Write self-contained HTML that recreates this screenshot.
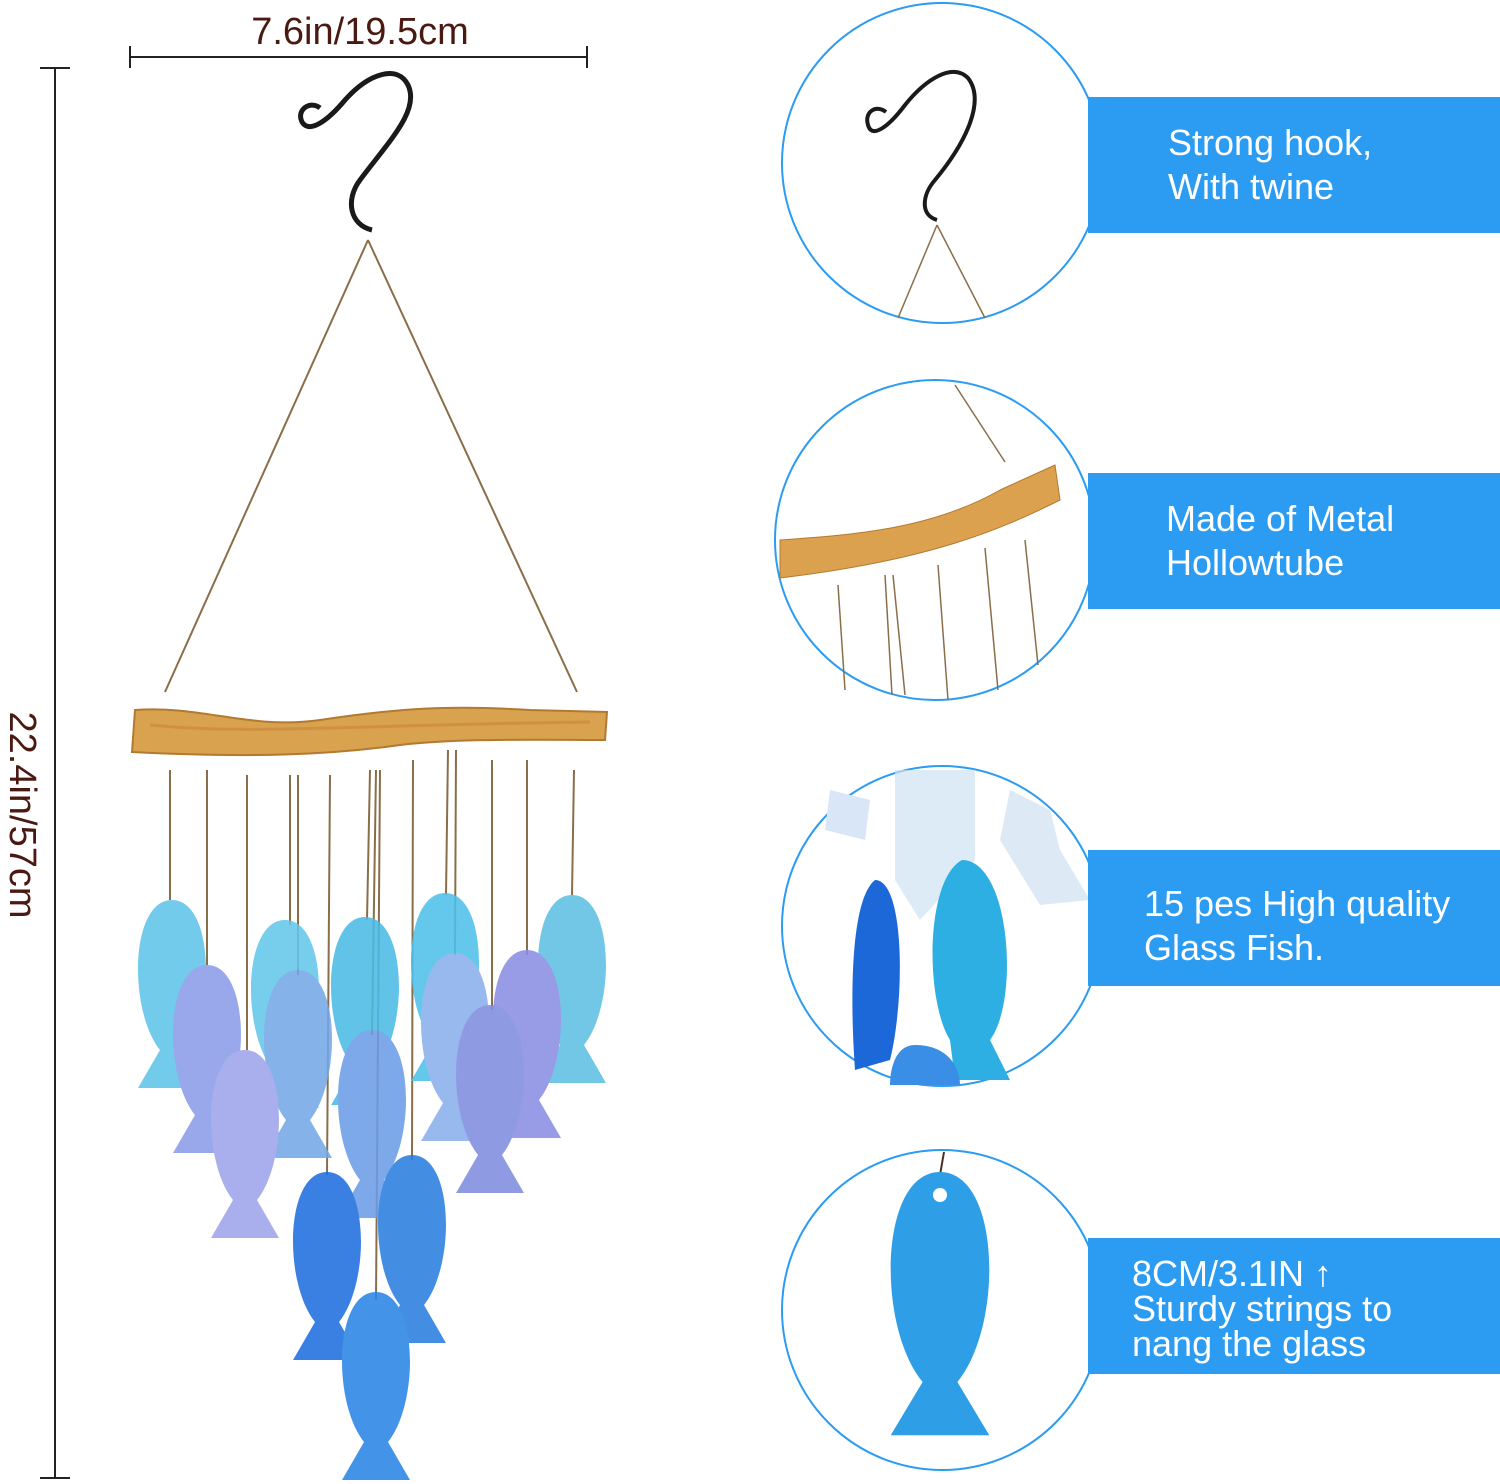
<!DOCTYPE html>
<html><head><meta charset="utf-8"><style>
html,body{margin:0;padding:0;background:#fff;}
body{width:1500px;height:1484px;position:relative;overflow:hidden;font-family:"Liberation Sans","DejaVu Sans",sans-serif;}
.band{position:absolute;left:1088px;width:412px;height:136px;background:#2b9cf2;color:#fff;font-size:36px;line-height:44px;box-sizing:border-box;}
</style></head><body>
<svg width="1500" height="1484" style="position:absolute;left:0;top:0">
<defs>
<path id="fish" d="M0,0 C42,0 44,110 12,150 L34,188 L-34,188 L-12,150 C-44,110 -42,0 0,0 Z"/>
</defs>
<!-- dimension lines -->
<g stroke="#222" stroke-width="2" fill="none">
<line x1="130" y1="57" x2="587" y2="57"/><line x1="130" y1="46" x2="130" y2="68"/><line x1="587" y1="46" x2="587" y2="68"/>
<line x1="55" y1="68" x2="55" y2="1478"/><line x1="40" y1="68" x2="70" y2="68"/><line x1="40" y1="1478" x2="70" y2="1478"/>
</g>
<text x="360" y="44" font-size="38" fill="#4a1a12" text-anchor="middle" font-family="Liberation Sans, sans-serif">7.6in/19.5cm</text>
<text transform="translate(10,815) rotate(90)" font-size="38" fill="#4a1a12" text-anchor="middle" font-family="Liberation Sans, sans-serif">22.4in/57cm</text>
<!-- hook -->
<path d="M372,230 C350,225 345,200 360,180 C390,140 420,110 408,85 C398,65 370,72 345,100 C330,118 310,135 302,122 C296,110 310,100 320,108" stroke="#1a1a1a" stroke-width="5" fill="none"/>
<!-- strings -->
<g stroke="#8a6e4a" stroke-width="2" fill="none">
<line x1="368" y1="240" x2="165" y2="692"/><line x1="368" y1="240" x2="577" y2="692"/>
<line x1="170" y1="770" x2="170" y2="900"/><line x1="207" y1="770" x2="207" y2="965"/><line x1="247" y1="775" x2="247" y2="1050"/>
<line x1="290" y1="775" x2="290" y2="925"/><line x1="298" y1="775" x2="298" y2="975"/><line x1="330" y1="775" x2="327" y2="1175"/>
<line x1="370" y1="770" x2="367" y2="920"/><line x1="376" y1="770" x2="372" y2="1035"/><line x1="380" y1="770" x2="376" y2="1300"/>
<line x1="413" y1="760" x2="412" y2="1160"/><line x1="448" y1="750" x2="446" y2="895"/><line x1="456" y1="750" x2="455" y2="955"/>
<line x1="492" y1="760" x2="492" y2="1010"/><line x1="527" y1="760" x2="527" y2="955"/><line x1="574" y1="770" x2="572" y2="895"/>
</g>
<!-- stick -->
<path d="M135,710 C200,705 250,730 320,720 C400,708 450,705 530,710 L607,712 L605,740 C540,740 460,738 400,745 C330,755 250,758 132,752 Z" fill="#d9a24e" stroke="#b27a30" stroke-width="2"/>
<path d="M150,725 C250,735 350,725 590,722" stroke="#c9843a" stroke-width="3" fill="none" opacity=".6"/>
<!-- fish -->
<g opacity="0.88">
<use href="#fish" transform="translate(172,900) scale(1,1)" fill="#5fc4e8"/>
<use href="#fish" transform="translate(572,895)" fill="#5fc0e4"/>
<use href="#fish" transform="translate(445,893)" fill="#4fc0ea"/>
<use href="#fish" transform="translate(285,920)" fill="#63c6ea"/>
<use href="#fish" transform="translate(365,917)" fill="#4cbbe5"/>
<use href="#fish" transform="translate(207,965)" fill="#8a9de8"/>
<use href="#fish" transform="translate(298,970)" fill="#74a8e6"/>
<use href="#fish" transform="translate(455,953)" fill="#8ab0ec"/>
<use href="#fish" transform="translate(527,950)" fill="#8a8fe4"/>
<use href="#fish" transform="translate(245,1050)" fill="#9da4ea"/>
<use href="#fish" transform="translate(372,1030)" fill="#6b9de6"/>
<use href="#fish" transform="translate(490,1005)" fill="#7f8ee0"/>
<use href="#fish" transform="translate(327,1172)" fill="#1f6fe0"/>
<use href="#fish" transform="translate(412,1155)" fill="#2a7fe0"/>
<use href="#fish" transform="translate(376,1292)" fill="#2a86e6"/>
</g>
<!-- circles -->
<g fill="none" stroke="#2b9cf2" stroke-width="2">
<circle cx="942" cy="163" r="160"/><circle cx="935" cy="540" r="160"/>
<circle cx="942" cy="926" r="160"/><circle cx="942" cy="1310" r="160"/>
</g>
<!-- circle 1 content -->
<path d="M937,220 C920,215 922,195 935,180 C968,140 985,100 968,78 C952,62 925,80 905,105 C890,125 872,140 868,125 C864,112 876,104 886,112" stroke="#1a1a1a" stroke-width="4" fill="none"/>
<g stroke="#8a6e4a" stroke-width="1.5"><line x1="937" y1="225" x2="898" y2="318"/><line x1="937" y1="225" x2="985" y2="318"/></g>
<!-- circle 2 content -->
<line x1="955" y1="385" x2="1005" y2="462" stroke="#8a6e4a" stroke-width="1.5"/>
<path d="M780,540 C850,535 930,530 1000,490 L1055,465 L1060,500 C1000,530 930,560 780,578 Z" fill="#dca14e" stroke="#b27a30"/>
<g stroke="#8a6e4a" stroke-width="1.5">
<line x1="838" y1="585" x2="845" y2="690"/><line x1="885" y1="575" x2="892" y2="695"/><line x1="893" y1="575" x2="905" y2="695"/>
<line x1="938" y1="565" x2="948" y2="700"/><line x1="985" y1="548" x2="998" y2="690"/><line x1="1025" y1="540" x2="1038" y2="665"/>
</g>
<!-- circle 3 content -->
<path d="M895,770 L975,770 L975,860 L920,920 L895,880 Z" fill="#cfe3f4" opacity=".7"/>
<path d="M830,790 L870,800 L865,840 L825,830 Z" fill="#d8e6f7"/>
<path d="M1010,790 L1050,810 L1060,850 L1090,900 L1040,905 L1000,840 Z" fill="#dde9f5"/>
<path d="M875,880 C905,880 905,1000 890,1060 L855,1070 C850,1000 850,900 875,880 Z" fill="#1d68d8"/>
<path d="M962,860 C1010,860 1020,1000 990,1040 L1010,1080 L955,1080 L950,1040 C925,1000 925,880 962,860 Z" fill="#2dafe3"/>
<path d="M915,1045 C950,1045 960,1070 960,1085 L890,1085 C890,1070 895,1045 915,1045 Z" fill="#3a8ee6"/>
<!-- circle 4 content -->
<line x1="944" y1="1152" x2="940" y2="1175" stroke="#4a3020" stroke-width="2"/>
<g transform="translate(940,1172) scale(1.45,1.4)"><use href="#fish" fill="#2e9fe6"/></g>
<circle cx="940" cy="1195" r="7" fill="#fff"/>
</svg>
<div class="band" style="top:97px;padding:24px 0 0 80px;">Strong hook,<br>With twine</div>
<div class="band" style="top:473px;padding:24px 0 0 78px;">Made of Metal<br>Hollowtube</div>
<div class="band" style="top:850px;padding:32px 0 0 56px;">15 pes High quality<br>Glass Fish.</div>
<div class="band" style="top:1238px;padding:18px 0 0 44px;line-height:35px;">8CM/3.1IN ↑<br>Sturdy strings to<br>nang the glass</div>
</body></html>
